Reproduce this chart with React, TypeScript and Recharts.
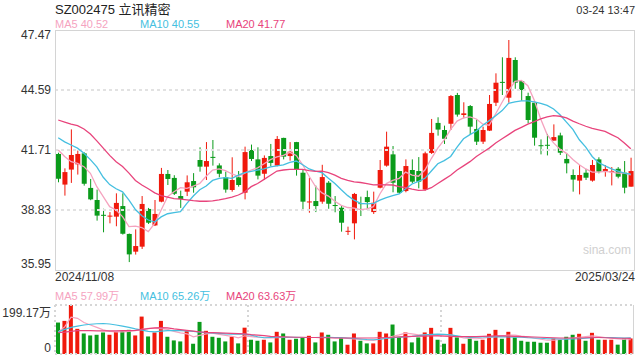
import React from "react";
import {
  ComposedChart,
  Bar,
  Line,
  XAxis,
  YAxis,
  ReferenceLine,
  CartesianGrid,
} from "recharts";

const openP = [41.52, 40.05, 40.77, 41.02, 41.55, 39.89, 39.31, 38.6, 38.52, 38.51, 39.02, 37.68, 36.83, 37.07, 38.88, 38.09, 39.23, 40.56, 40.37, 39.5, 39.71, 40.22, 41.23, 40.91, 41.38, 40.97, 40.4, 39.79, 40.4, 39.66, 41.71, 41.26, 40.57, 41.42, 40.96, 42.29, 41.42, 42.09, 40.62, 39.2, 39.26, 39.23, 40.14, 39.07, 38.94, 37.79, 38.19, 39.16, 39.45, 38.73, 39.9, 40.96, 41.5, 40.7, 39.74, 40.75, 40.7, 39.81, 41.57, 43.01, 42.67, 42.97, 44.35, 43.39, 43.82, 42.72, 42.11, 42.64, 43.98, 44.98, 44.22, 46.03, 45.02, 44.3, 43.98, 41.94, 41.96, 42.16, 42.41, 41.28, 40.51, 40.24, 40.62, 40.24, 41.26, 40.7, 40.65, 40.81, 40.62, 39.95];
const highP = [41.58, 40.83, 42.7, 41.68, 41.6, 40.32, 39.81, 38.89, 38.73, 39.63, 39.63, 37.7, 37.9, 39.5, 38.93, 39.31, 40.85, 40.75, 40.5, 39.76, 40.49, 40.6, 41.84, 42.09, 42.19, 41.07, 40.67, 41.36, 40.7, 41.87, 41.97, 41.84, 41.45, 42.0, 42.38, 42.3, 42.09, 42.1, 40.75, 40.38, 40.0, 41.0, 40.22, 39.5, 39.02, 38.03, 39.65, 39.47, 39.76, 39.71, 41.23, 42.59, 41.9, 40.7, 41.26, 41.26, 41.37, 41.63, 43.2, 43.28, 42.88, 44.35, 44.45, 44.0, 43.87, 43.18, 42.83, 44.35, 45.39, 46.16, 46.99, 46.16, 45.02, 44.46, 43.98, 42.22, 42.48, 42.94, 42.54, 41.55, 40.78, 40.99, 40.8, 41.23, 41.36, 40.99, 40.89, 40.89, 41.18, 41.34];
const lowP = [40.16, 39.52, 40.13, 40.53, 40.0, 39.3, 38.32, 37.76, 38.19, 38.05, 37.65, 36.33, 36.69, 36.96, 38.16, 38.06, 39.2, 40.03, 39.55, 38.93, 39.5, 39.66, 40.67, 40.27, 40.96, 40.4, 39.66, 39.71, 39.95, 39.34, 41.18, 40.3, 40.27, 40.93, 40.93, 41.26, 41.2, 40.48, 38.83, 38.7, 38.73, 39.13, 38.89, 38.72, 37.79, 37.63, 37.42, 38.54, 38.83, 38.64, 39.87, 40.91, 39.68, 39.61, 39.68, 40.11, 39.87, 39.76, 41.52, 42.4, 42.0, 42.67, 43.31, 43.23, 42.43, 41.95, 42.0, 42.62, 43.82, 44.35, 43.98, 44.65, 44.08, 42.99, 41.92, 41.5, 41.45, 42.16, 41.47, 40.59, 39.71, 39.58, 40.27, 40.19, 40.59, 40.43, 40.01, 40.35, 39.63, 39.95];
const closeP = [40.33, 40.65, 41.47, 41.52, 40.09, 39.34, 38.56, 38.55, 38.56, 39.17, 37.69, 36.7, 37.1, 39.12, 38.22, 38.64, 40.56, 40.32, 39.61, 39.36, 40.16, 39.92, 40.91, 41.18, 41.33, 40.57, 39.81, 40.27, 40.03, 41.61, 41.28, 40.48, 41.33, 41.09, 42.24, 41.39, 41.63, 40.78, 39.23, 39.24, 39.02, 40.41, 39.13, 39.02, 38.22, 37.83, 39.6, 39.13, 39.21, 39.18, 40.75, 41.87, 40.14, 39.66, 40.94, 40.19, 40.19, 41.55, 42.53, 42.69, 42.25, 44.3, 43.41, 43.47, 42.83, 42.11, 42.67, 43.92, 44.94, 44.96, 46.13, 44.94, 44.59, 43.15, 42.3, 41.92, 41.95, 42.33, 41.58, 41.07, 40.29, 40.51, 40.38, 40.99, 40.67, 40.8, 40.69, 40.43, 39.9, 40.7];

const ma5 = [41.71, 41.4, 41.15, 41.07, 40.91, 40.59, 39.95, 39.47, 38.99, 38.83, 38.51, 38.03, 38.06, 37.99, 37.79, 38.19, 38.83, 39.47, 39.71, 39.9, 39.87, 39.98, 40.1, 40.45, 40.75, 40.8, 40.72, 40.56, 40.45, 40.6, 40.75, 40.85, 41.05, 41.25, 41.38, 41.45, 41.6, 41.45, 41.0, 40.45, 39.95, 39.65, 39.5, 39.25, 39.05, 38.95, 38.92, 38.85, 38.88, 38.99, 39.6, 40.1, 40.25, 40.35, 40.65, 40.5, 40.45, 40.75, 41.3, 41.8, 42.2, 42.7, 43.1, 43.25, 43.3, 43.2, 42.95, 42.9, 43.45, 44.0, 44.55, 45.0, 45.05, 44.8, 44.1, 43.2, 42.45, 42.05, 41.75, 41.55, 41.25, 41.0, 40.8, 40.65, 40.65, 40.68, 40.65, 40.6, 40.6, 40.52];
const ma10 = [42.3, 42.1, 41.95, 41.8, 41.55, 41.25, 40.9, 40.4, 40.05, 39.85, 39.7, 39.3, 38.85, 38.55, 38.35, 38.25, 38.5, 38.65, 38.7, 38.75, 39.15, 39.5, 39.8, 39.98, 40.25, 40.35, 40.38, 40.35, 40.5, 40.62, 40.68, 40.75, 40.8, 40.9, 40.95, 41.0, 41.12, 41.18, 41.0, 40.8, 40.7, 40.62, 40.35, 40.1, 39.8, 39.52, 39.3, 39.15, 39.12, 39.15, 39.3, 39.42, 39.52, 39.6, 39.85, 40.08, 40.2, 40.35, 40.7, 41.05, 41.2, 41.4, 41.85, 42.25, 42.45, 42.62, 42.9, 43.12, 43.35, 43.6, 43.95, 44.02, 44.07, 44.07, 44.02, 43.95, 43.85, 43.68, 43.4, 43.05, 42.7, 42.2, 41.85, 41.4, 41.1, 40.95, 40.8, 40.7, 40.6, 40.55];
const ma20 = [43.15, 43.05, 42.95, 42.88, 42.72, 42.48, 42.15, 41.8, 41.45, 41.15, 40.92, 40.6, 40.25, 40.03, 39.85, 39.65, 39.52, 39.45, 39.38, 39.35, 39.32, 39.28, 39.25, 39.25, 39.27, 39.32, 39.38, 39.45, 39.55, 39.7, 39.95, 40.1, 40.3, 40.5, 40.7, 40.75, 40.78, 40.78, 40.78, 40.72, 40.68, 40.7, 40.62, 40.5, 40.35, 40.25, 40.18, 40.15, 40.1, 40.04, 40.05, 40.04, 40.03, 39.95, 39.9, 39.83, 39.77, 39.78, 39.9, 40.1, 40.3, 40.5, 40.75, 40.95, 41.15, 41.4, 41.6, 41.8, 42.05, 42.25, 42.45, 42.65, 42.8, 42.95, 43.07, 43.2, 43.3, 43.36, 43.33, 43.25, 43.1, 42.97, 42.85, 42.75, 42.68, 42.6, 42.45, 42.3, 42.05, 41.77];

// volume, 万股
const volume = [127.8, 134.6, 199.17, 102.3, 83.4, 75.4, 78.1, 87.5, 78.1, 90.2, 92.9, 98.2, 75.4, 152.1, 71.3, 87.5, 134.6, 70.0, 55.2, 51.1, 92.9, 41.7, 130.5, 94.2, 70.0, 65.9, 51.1, 70.0, 43.1, 107.0, 57.9, 53.8, 57.9, 47.1, 90.2, 83.4, 57.9, 61.9, 68.6, 74.0, 47.1, 87.5, 78.1, 51.1, 64.6, 37.7, 83.4, 53.8, 43.1, 43.1, 90.2, 83.4, 119.8, 68.6, 87.5, 47.1, 67.3, 87.5, 106.3, 57.9, 41.7, 106.3, 67.3, 41.7, 63.2, 53.8, 57.9, 82.1, 98.2, 61.9, 90.2, 67.3, 53.8, 49.8, 49.8, 45.8, 45.8, 63.2, 57.9, 70.0, 78.1, 82.1, 53.8, 86.1, 57.9, 57.9, 57.9, 38.0, 63.2, 63.2];
const vma5 = [90, 110, 150, 145, 128, 118, 108, 98, 92, 90, 90, 92, 95, 100, 104, 104, 103, 100, 92, 86, 82, 70, 76, 82, 85, 80, 76, 72, 66, 74, 71, 68, 66, 65, 66, 67, 67, 67, 67, 67, 67, 67, 67, 66, 65, 63, 61, 59, 56, 55, 60, 66, 72, 78, 85, 82, 78, 78, 78, 76, 78, 78, 72, 65, 63, 62, 64, 67, 71, 74, 77, 77, 73, 70, 64, 60, 56, 56, 59, 62, 65, 68, 71, 74, 71, 67, 64, 61, 59, 57.99];
const vma10 = [90, 100, 108, 113, 118, 121, 123, 124, 122, 118, 113, 108, 102, 97, 92, 90, 93, 95, 95, 95, 94, 92, 89, 87, 86, 84, 82, 81, 81, 81, 77, 70, 66, 67, 68, 68, 68, 68, 67, 67, 67, 68, 68, 67, 67, 65, 63, 61, 59, 58, 60, 63, 66, 68, 70, 72, 75, 78, 80, 81, 80, 78, 74, 70, 67, 68, 69, 70, 71, 70, 69, 68, 68, 66, 65, 64, 62, 62, 61, 60, 61, 62, 64, 66, 67, 67, 67, 66, 65, 65.26];
const vma20 = [87, 89, 92, 95, 95, 95, 94, 94, 94, 94, 95, 95, 96, 99, 103, 106, 107, 106, 102, 99, 96, 93, 90, 88, 87, 86, 85, 84, 83, 82, 79, 77, 75, 72, 71, 70, 69, 68, 68, 67, 67, 66, 66, 65, 65, 65, 65, 65, 65, 65, 66, 67, 68, 70, 71, 72, 73, 73, 74, 74, 73, 72, 71, 71, 71, 71, 72, 73, 74, 74, 73, 72, 71, 70, 69, 68, 67, 66, 65, 65, 65, 65, 66, 67, 67, 66, 65, 64, 64, 63.63];

const priceTicks = [35.95, 38.83, 41.71, 44.59, 47.47];
const priceGrid = [38.83, 41.71, 44.59];
const volTicks = [0, 199.17];
const dateLabels = ["2024/11/08", "2025/03/24"];

const RED = "#f0190c";
const GREEN = "#0b9b1b";
const C_MA5 = "#f5a3bf";
const C_MA10 = "#45bfe0";
const C_MA20 = "#e8447c";
const FONT = "'Liberation Sans', Arial, 'Noto Sans CJK SC', sans-serif";

const rows = closeP.map((c, i) => ({
  i,
  open: openP[i],
  high: highP[i],
  low: lowP[i],
  close: c,
  range: [lowP[i], highP[i]],
  ma5: ma5[i],
  ma10: ma10[i],
  ma20: ma20[i],
  vol: volume[i],
  vma5: vma5[i],
  vma10: vma10[i],
  vma20: vma20[i],
}));

function Candle(props: any) {
  const { x, y, width, height, payload } = props;
  const { open, close, high, low } = payload;
  const color = close >= open ? RED : GREEN;
  const k = high > low ? height / (high - low) : 0;
  const top = y + (high - Math.max(open, close)) * k;
  const bot = y + (high - Math.min(open, close)) * k;
  const cx = x + width / 2;
  return (
    <g>
      <line x1={cx} x2={cx} y1={y} y2={y + height} stroke={color} strokeWidth={1} />
      <rect x={x} y={top} width={width} height={Math.max(1, bot - top)} fill={color} />
    </g>
  );
}

function VolBar(props: any) {
  const { x, y, width, height, payload } = props;
  const color = payload.close >= payload.open ? RED : GREEN;
  return <rect x={x} y={y} width={width} height={height} fill={color} />;
}

function PriceTick(props: any) {
  const { y, payload } = props;
  let dy = 4;
  if (payload.value === 47.47) dy = 9;
  if (payload.value === 35.95) dy = -2;
  return (
    <text x={51} y={y + dy} textAnchor="end" fontSize={12} fill="#333" fontFamily={FONT}>
      {payload.value.toFixed(2)}
    </text>
  );
}

function VolTick(props: any) {
  const { y, payload } = props;
  const top = payload.value > 0;
  return (
    <text x={51} y={y + (top ? 12 : -2)} textAnchor="end" fontSize={12} fill="#333" fontFamily={FONT}>
      {top ? payload.value.toFixed(2) + "万" : "0"}
    </text>
  );
}

const abs = (left: number, top: number, extra: any = {}) => ({
  position: "absolute" as const,
  left,
  top,
  whiteSpace: "nowrap" as const,
  lineHeight: 1,
  ...extra,
});

function Legend({ top, items }: { top: number; items: [string, string, number][] }) {
  return (
    <>
      {items.map(([text, color, left]) => (
        <div key={text} style={abs(left, top, { fontSize: 11, color })}>
          {text}
        </div>
      ))}
    </>
  );
}

export default function App() {
  return (
    <div
      style={{
        position: "fixed",
        left: 0,
        top: 0,
        width: 640,
        height: 360,
        background: "#fff",
        fontFamily: FONT,
        overflow: "hidden",
      }}
    >
      <div style={abs(55, 3, { fontSize: 13, color: "#222" })}>SZ002475 立讯精密</div>
      <div style={{ ...abs(0, 5, { fontSize: 11, color: "#333" }), left: undefined, right: 5 }}>
        03-24 13:47
      </div>
      <Legend
        top={19}
        items={[
          ["MA5 40.52", C_MA5, 55],
          ["MA10 40.55", C_MA10, 140],
          ["MA20 41.77", C_MA20, 226],
        ]}
      />

      <div style={abs(0, 20)}>
        <ComposedChart width={640} height={260} data={rows} margin={{ top: 10, right: 6, bottom: 10, left: 0 }}>
          <XAxis dataKey="i" hide />
          <YAxis
            domain={[35.95, 47.47]}
            ticks={priceTicks}
            width={55}
            axisLine={false}
            tickLine={false}
            tick={PriceTick}
            interval={0}
          />
          {priceGrid.map((v) => (
            <ReferenceLine key={v} y={v} stroke="#e2e2e2" strokeWidth={2} strokeDasharray="3 3" />
          ))}
          <Bar dataKey="range" shape={Candle} barSize={5} isAnimationActive={false} />
          <Line dataKey="ma5" stroke={C_MA5} strokeWidth={1.3} dot={false} isAnimationActive={false} />
          <Line dataKey="ma10" stroke={C_MA10} strokeWidth={1.3} dot={false} isAnimationActive={false} />
          <Line dataKey="ma20" stroke={C_MA20} strokeWidth={1.3} dot={false} isAnimationActive={false} />
        </ComposedChart>
      </div>
      <div style={abs(55, 30, { width: 578, height: 239, border: "1px solid #d4d4d4" })} />
      <div style={abs(583, 244, { fontSize: 12, color: "#d0d0d0" })}>sina.com</div>

      <div style={abs(55, 271, { fontSize: 12, color: "#333" })}>{dateLabels[0]}</div>
      <div style={{ ...abs(0, 271, { fontSize: 12, color: "#333" }), left: undefined, right: 5 }}>
        {dateLabels[1]}
      </div>

      <Legend
        top={291}
        items={[
          ["MA5 57.99万", C_MA5, 55],
          ["MA10 65.26万", C_MA10, 140],
          ["MA20 63.63万", C_MA20, 226],
        ]}
      />

      <div style={abs(0, 300)}>
        <ComposedChart width={640} height={58} data={rows} margin={{ top: 5, right: 6, bottom: 4, left: 0 }}>
          <CartesianGrid
            horizontal={false}
            verticalPoints={[55, 248, 441]}
            stroke="#d6d6d6"
            strokeWidth={2}
            strokeDasharray="2 3"
          />
          <XAxis dataKey="i" hide />
          <YAxis
            domain={[0, 199.17]}
            ticks={volTicks}
            width={55}
            axisLine={false}
            tickLine={false}
            tick={VolTick}
            interval={0}
          />
          <ReferenceLine y={199.17} stroke="#d6d6d6" strokeWidth={2} strokeDasharray="2 3" />
          <ReferenceLine y={0} stroke="#d6d6d6" strokeWidth={2} strokeDasharray="2 3" />
          <Bar dataKey="vol" shape={VolBar} barSize={4} isAnimationActive={false} />
          <Line dataKey="vma5" stroke={C_MA5} strokeWidth={1.2} dot={false} isAnimationActive={false} />
          <Line dataKey="vma10" stroke={C_MA10} strokeWidth={1.2} dot={false} isAnimationActive={false} />
          <Line dataKey="vma20" stroke={C_MA20} strokeWidth={1.2} dot={false} isAnimationActive={false} />
        </ComposedChart>
      </div>
      <div style={abs(633, 305, { width: 0, height: 49, borderLeft: "1px solid #d4d4d4" })} />
    </div>
  );
}
